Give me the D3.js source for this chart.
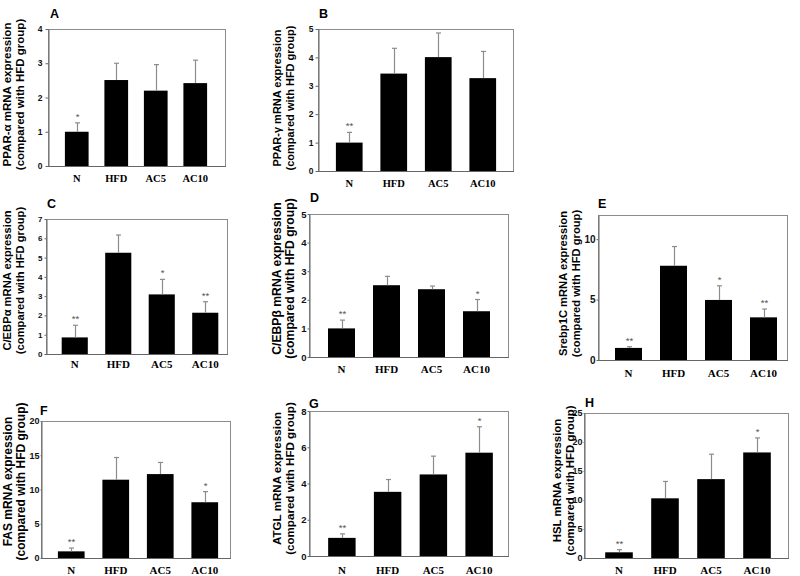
<!DOCTYPE html>
<html>
<head>
<meta charset="utf-8">
<script src="https://cdn.jsdelivr.net/npm/d3@7"></script>
<style>
  html, body { margin: 0; padding: 0; background: #fff; }
  svg { display: block; }
</style>
</head>
<body>
<svg id="chart" width="800" height="576"></svg>
<script>
// ---------------- DATA ----------------
const categories = ["N", "HFD", "AC5", "AC10"];
const panelLetters = ["A", "B", "C", "D", "E", "F", "G", "H"];
const geneNames = ["PPAR-α", "PPAR-γ", "C/EBPα", "C/EBPβ", "Srebp1C", "FAS", "ATGL", "HSL"];
const yLabelSuffix = " mRNA expression";
const yLabelLine2 = "(compared with HFD group)";

const meansA = [1.00, 2.51, 2.20, 2.42];
const errA   = [0.26, 0.49, 0.76, 0.67];
const sigA   = ["*", "", "", ""];

const meansB = [1.00, 3.43, 4.01, 3.27];
const errB   = [0.36, 0.89, 0.85, 0.94];
const sigB   = ["**", "", "", ""];

const meansC = [0.86, 5.25, 3.09, 2.14];
const errC   = [0.63, 0.92, 0.78, 0.57];
const sigC   = ["**", "", "*", "**"];

const meansD = [1.00, 2.51, 2.37, 1.60];
const errD   = [0.29, 0.31, 0.11, 0.41];
const sigD   = ["**", "", "", "*"];

const meansE = [1.00, 7.80, 4.97, 3.53];
const errE   = [0.10, 1.59, 1.17, 0.69];
const sigE   = ["**", "", "*", "**"];

const meansF = [0.97, 11.43, 12.25, 8.14];
const errF   = [0.48, 3.24, 1.70, 1.55];
const sigF   = ["**", "", "", "*"];

const meansG = [1.00, 3.54, 4.50, 5.70];
const errG   = [0.22, 0.68, 1.01, 1.43];
const sigG   = ["**", "", "", "*"];

const meansH = [0.98, 10.29, 13.60, 18.20];
const errH   = [0.46, 2.91, 4.30, 2.50];
const sigH   = ["**", "", "", "*"];

const yMaxes = [4, 5, 7, 5, 12, 20, 8, 25];
const yTickValues = [
  [0, 1, 2, 3, 4],
  [0, 1, 2, 3, 4, 5],
  [0, 1, 2, 3, 4, 5, 6, 7],
  [0, 1, 2, 3, 4, 5],
  [0, 5, 10],
  [0, 5, 10, 15, 20],
  [0, 2, 4, 6, 8],
  [0, 5, 10, 15, 20, 25]
];

const allMeans = [meansA, meansB, meansC, meansD, meansE, meansF, meansG, meansH];
const allErrs  = [errA, errB, errC, errD, errE, errF, errG, errH];
const allSigs  = [sigA, sigB, sigC, sigD, sigE, sigF, sigG, sigH];

// ---------------- LAYOUT ----------------
const layout = [
  {x0: 48,  x1: 225, y0: 166, y1: 29,  bx: [57, 215],  lab: [10.5, 23.5], labFs: 11.5, labDy: -3, catY: 182, let: [50, 18],   tickFs: 8.5, tickSz: 3, tickPad: 3, catFs: 10.5},
  {x0: 318, x1: 513, y0: 171, y1: 29,  bx: [327, 505], lab: [281, 294],   labFs: 11,   labDy: -2, catY: 187, let: [319, 18],  tickFs: 8.5, tickSz: 3, tickPad: 2, catFs: 10.5},
  {x0: 46,  x1: 227, y0: 354, y1: 219, bx: [53, 227],  lab: [10.5, 23.5], labFs: 11.2, labDy: -6, catY: 368, let: [47, 208],  tickFs: 8,   tickSz: 2, tickPad: 2, catFs: 11},
  {x0: 309, x1: 508, y0: 357, y1: 214, bx: [319, 499], lab: [280.5, 294], labFs: 12.2, labDy: -7, catY: 373, let: [310, 202], tickFs: 9.5, tickSz: 2, tickPad: 1, catFs: 11},
  {x0: 598, x1: 787, y0: 360, y1: 215, bx: [606, 786], lab: [567, 580],   labFs: 11.2, labDy: -4, catY: 377, let: [598, 208], tickFs: 10,  tickSz: 2, tickPad: 1, catFs: 11},
  {x0: 41,  x1: 230, y0: 558, y1: 421, bx: [49, 227],  lab: [11.5, 25],   labFs: 12,   labDy: -8, catY: 574, let: [40, 415],  tickFs: 9,   tickSz: 1, tickPad: 1, catFs: 11},
  {x0: 309, x1: 508, y0: 556, y1: 411, bx: [319, 502], lab: [281, 294],   labFs: 11.6, labDy: -5, catY: 574, let: [309, 408], tickFs: 9.5, tickSz: 2, tickPad: 1, catFs: 11},
  {x0: 584, x1: 788, y0: 558, y1: 413, bx: [596, 780], lab: [561, 573.5], labFs: 11.4, labDy: -5, catY: 574, let: [585, 407], tickFs: 9,   tickSz: 1, tickPad: 1, catFs: 11}
];

const svg = d3.select("#chart");
const sans = "Liberation Sans, Arial, sans-serif";
const serif = "Liberation Serif, Times New Roman, serif";
const frameColor = "#8c8c8c";
const errColor = "#8c8c8c";

layout.forEach((L, i) => {
  const g = svg.append("g");
  const y = d3.scaleLinear().domain([0, yMaxes[i]]).range([L.y0, L.y1]);
  const x = d3.scaleBand().domain(categories).range(L.bx).paddingInner(0.4).paddingOuter(0.2);

  // frame (plot area border)
  g.append("rect")
    .attr("x", L.x0 + 0.5).attr("y", L.y1 + 0.5)
    .attr("width", L.x1 - L.x0).attr("height", L.y0 - L.y1)
    .attr("fill", "none").attr("stroke", frameColor).attr("stroke-width", 1);

  // bars
  const data = categories.map((c, k) => ({c, m: allMeans[i][k], e: allErrs[i][k], s: allSigs[i][k]}));
  g.selectAll("rect.bar").data(data).enter().append("rect")
    .attr("class", "bar")
    .attr("x", d => x(d.c))
    .attr("y", d => y(d.m))
    .attr("width", x.bandwidth())
    .attr("height", d => y(0) - y(d.m))
    .attr("fill", "#000");

  // error bars + significance marks
  data.forEach(d => {
    const cx = Math.round(x(d.c) + x.bandwidth() / 2) + 0.5;
    g.append("line").attr("x1", cx).attr("x2", cx)
      .attr("y1", y(d.m)).attr("y2", y(d.m + d.e))
      .attr("stroke", errColor).attr("stroke-width", 1.2);
    g.append("line").attr("x1", cx - 2.5).attr("x2", cx + 2.5)
      .attr("y1", y(d.m + d.e)).attr("y2", y(d.m + d.e))
      .attr("stroke", errColor).attr("stroke-width", 1.2);
    if (d.s) {
      g.append("text").attr("x", cx).attr("y", y(d.m + d.e) - 3)
        .attr("text-anchor", "middle")
        .attr("font-family", sans).attr("font-size", 9.5)
        .attr("fill", "#555").text(d.s);
    }
  });

  // y axis
  const ax = g.append("g").attr("transform", `translate(${L.x0 + 0.5},0)`)
    .call(d3.axisLeft(y).tickValues(yTickValues[i]).tickFormat(d3.format("d"))
      .tickSize(L.tickSz).tickSizeOuter(0).tickPadding(L.tickPad));
  ax.select(".domain").attr("stroke", "#666");
  ax.selectAll(".tick line").attr("stroke", "#666");
  ax.selectAll(".tick text")
    .attr("font-family", sans).attr("font-size", L.tickFs).attr("font-weight", "bold").attr("fill", "#111");

  // bottom axis line
  g.append("line").attr("x1", L.x0).attr("x2", L.x1 + 1)
    .attr("y1", L.y0 + 0.5).attr("y2", L.y0 + 0.5)
    .attr("stroke", "#666").attr("stroke-width", 1);

  // category labels
  g.selectAll("text.cat").data(categories).enter().append("text")
    .attr("class", "cat")
    .attr("x", c => x(c) + x.bandwidth() / 2)
    .attr("y", L.catY)
    .attr("text-anchor", "middle")
    .attr("font-family", serif).attr("font-size", L.catFs).attr("font-weight", "bold")
    .attr("fill", "#000")
    .text(c => c);

  // y label (two lines)
  const cy = (L.y0 + L.y1) / 2 + L.labDy;
  [geneNames[i] + yLabelSuffix, yLabelLine2].forEach((t, k) => {
    g.append("text")
      .attr("transform", `translate(${L.lab[k]},${cy}) rotate(-90)`)
      .attr("text-anchor", "middle")
      .attr("font-family", sans).attr("font-size", L.labFs).attr("font-weight", "bold")
      .attr("fill", "#000").text(t);
  });

  // panel letter
  g.append("text").attr("x", L.let[0]).attr("y", L.let[1])
    .attr("font-family", sans).attr("font-size", 12.5).attr("font-weight", "bold")
    .attr("fill", "#000").text(panelLetters[i]);
});
</script>
</body>
</html>
